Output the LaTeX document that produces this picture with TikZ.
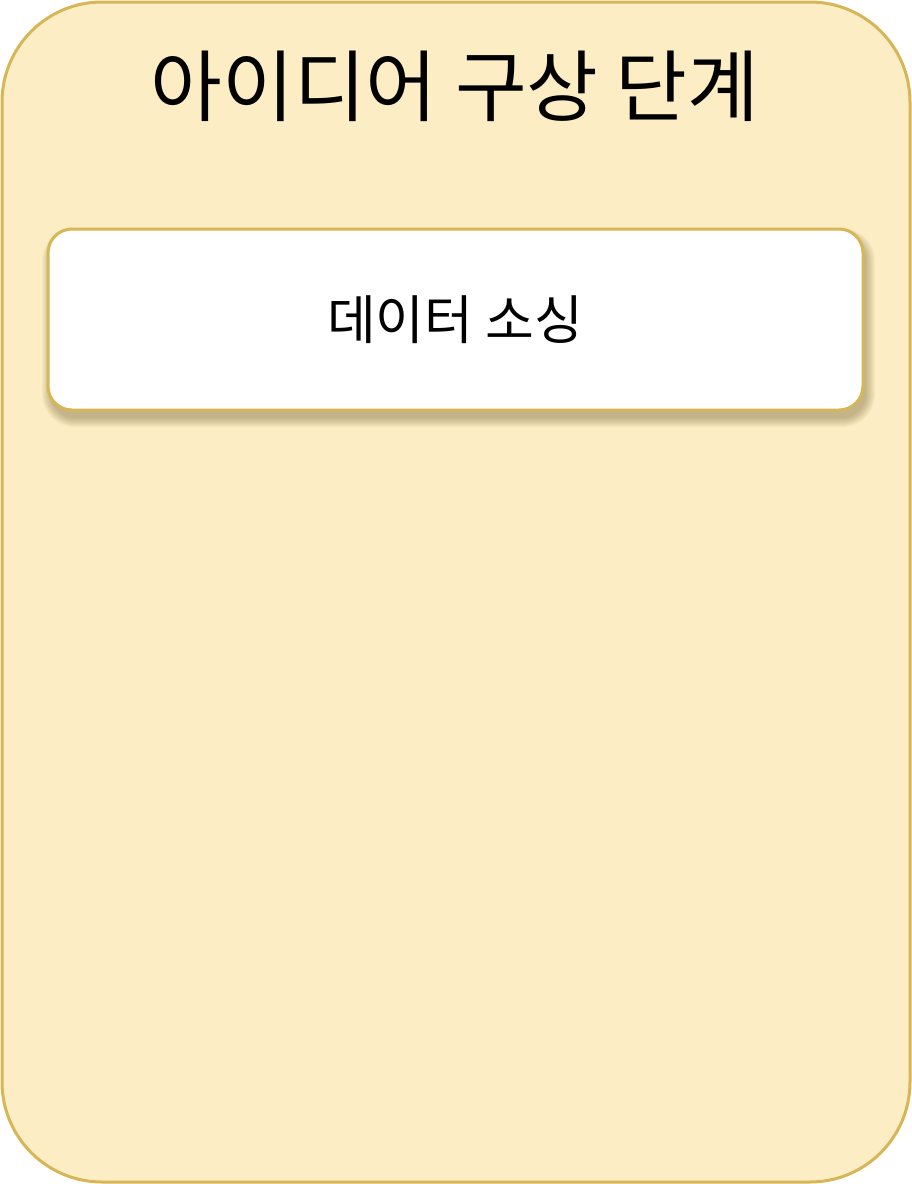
\documentclass[tikz,border=0pt]{standalone}
\usepackage{fontspec}
\newfontfamily\cjk{Noto Sans CJK KR}
\definecolor{bgfill}{HTML}{FCEDC4}
\definecolor{edge}{HTML}{D6B656}
\definecolor{shade}{HTML}{6B5A2A}
\tikzset{
  outerbox/.style={draw=edge, line width=3pt, fill=bgfill, rounded corners=100pt},
  innerbox/.style={draw=edge, line width=3pt, fill=white, rounded corners=24pt},
  shadowlayer/.style={fill=shade, fill opacity=0.045, draw=none},
}
\begin{document}
\begin{tikzpicture}[x=1pt,y=-1pt]
\useasboundingbox (0,0) rectangle (912,1184);
\draw[outerbox] (2,2) rectangle (910,1182);
\node[anchor=center, inner sep=0pt] (title) at (455,86) {\cjk\fontsize{78}{84}\selectfont 아이디어 구상 단계};
\foreach \i in {0,1,...,9}{
  \fill[shadowlayer, rounded corners={24pt+\i pt}] (48+3-\i,229+8-\i) rectangle (863+3+\i,410+8+\i);
}
\draw[innerbox] (48,229) rectangle (863,410);
\node[anchor=center, inner sep=0pt] (src) at (455,320) {\cjk\fontsize{53}{58}\selectfont 데이터 소싱};
\end{tikzpicture}
\end{document}
